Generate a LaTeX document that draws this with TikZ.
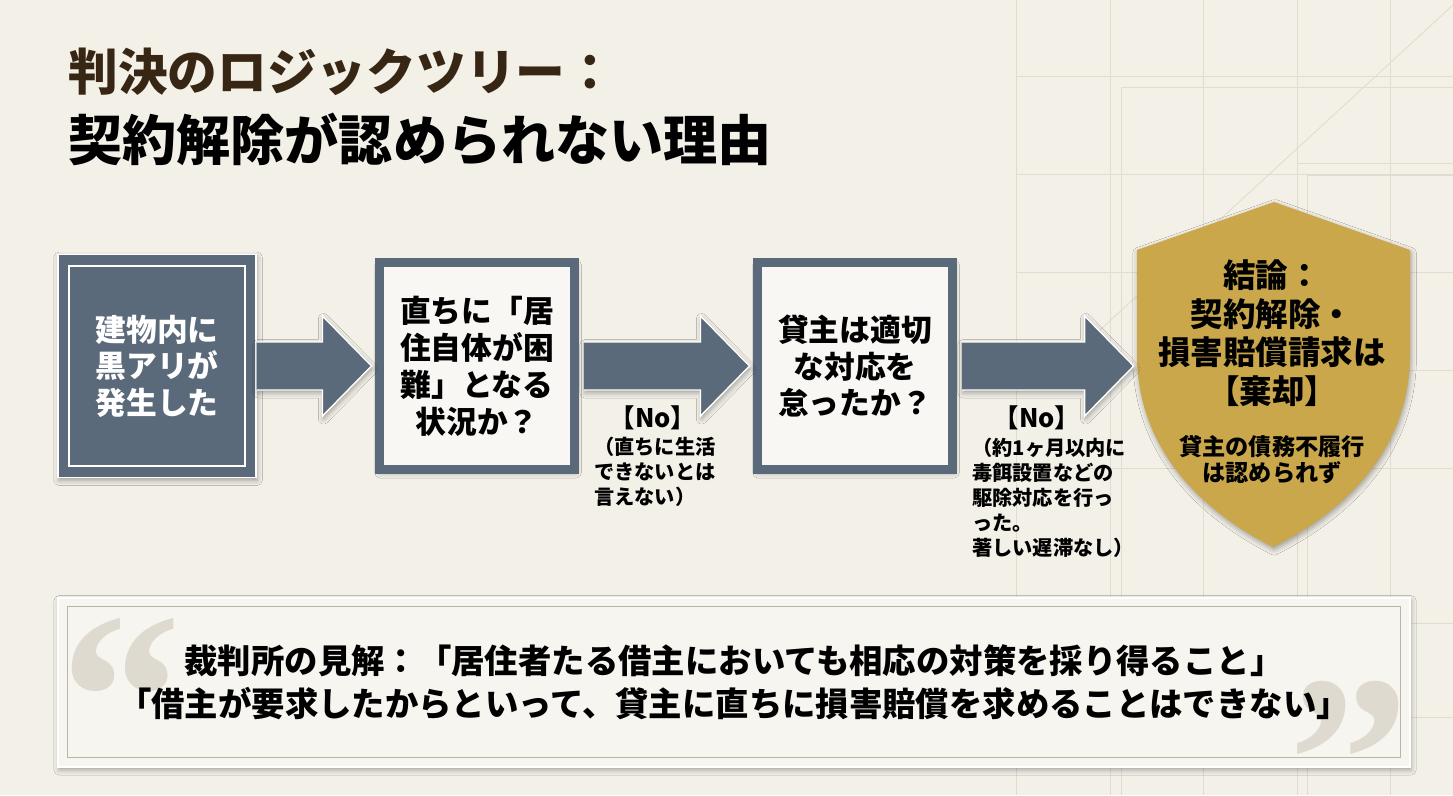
\documentclass[tikz,border=0pt]{standalone}
\usepackage{fontspec}
\setmainfont{Noto Sans CJK JP}
\newfontfamily\quotemark{Liberation Serif}
\usetikzlibrary{calc,shadows.blur}
\definecolor{paperbg}{RGB}{243,240,232}
\definecolor{gridtone}{RGB}{226,220,207}
\definecolor{slate}{RGB}{90,106,122}
\definecolor{paper}{RGB}{248,247,243}
\definecolor{gold}{RGB}{202,167,74}
\definecolor{quotepaper}{RGB}{247,245,239}
\definecolor{quotegray}{RGB}{222,218,208}
\definecolor{framegray}{RGB}{185,180,168}
\definecolor{titlebrown}{RGB}{56,38,20}
\newcommand\blockarrow[3]{%
  \coordinate (s) at ($(#1.east)+(#3,0)$);
  \coordinate (t0) at (#2.west |- #1.east);
  \coordinate (t) at ($(t0)+(-3,0)$);
  \fill[slate,softshadow] ($(s)+(0,-24)$) -- ($(t)+(-49,-24)$) -- ($(t)+(-49,-50)$) -- (t) -- ($(t)+(-49,50)$) -- ($(t)+(-49,24)$) -- ($(s)+(0,24)$) -- cycle;
  \draw[white,line width=0.8pt] ($(s)+(0,-24)$) -- ($(t)+(-49,-24)$) -- ($(t)+(-49,-50)$) -- (t) -- ($(t)+(-49,50)$) -- ($(t)+(-49,24)$) -- ($(s)+(0,24)$);}
\newcommand\bigquote[1]{\raisebox{-0.378em}[0.31em][0pt]{#1}}
\begin{document}
\begin{tikzpicture}[x=0.02cm,y=-0.02cm,
  gridline/.style={draw=gridtone,line width=0.5pt},
  softshadow/.style={blur shadow={shadow xshift=0.6pt,shadow yshift=-1.6pt,shadow blur radius=3pt,shadow opacity=35}},
  factbox/.style={softshadow,fill=slate,draw=white,line width=0.8pt,text=white,minimum width=3.96cm,minimum height=4.46cm,align=center,font=\bfseries\fontsize{17.5}{20.7}\selectfont},
  askbox/.style={softshadow,fill=paper,draw=slate,line width=0.18cm,minimum width=3.92cm,minimum height=4.16cm,align=center,font=\bfseries\fontsize{17.5}{21}\selectfont},
  nolabel/.style={inner sep=0pt,font=\bfseries\fontsize{14.5}{16}\selectfont},
  reason/.style={anchor=north west,align=left,inner sep=0pt,font=\bfseries\fontsize{11.5}{14.2}\selectfont},
  quoteglyph/.style={inner sep=0pt,text=quotegray,font=\quotemark\bfseries\fontsize{138}{138}\selectfont}]
\useasboundingbox (0,0) rectangle (1453,795);
\fill[paperbg] (0,0) rectangle (1453,795);
\foreach \gx in {1016,1110,1203,1297,1390} \draw[gridline] (\gx,0) -- (\gx,795);
\foreach \gy in {76,174,272,370,468,623,717} \draw[gridline] (1016,\gy) -- (1453,\gy);
\draw[gridline] (1121,795) -- (1121,87) -- (1453,87);
\draw[gridline] (1307,795) -- (1307,175) -- (1453,175);
\draw[gridline] (1297,163) -- (1453,163);
\draw[gridline] (1453,5) -- (1100,330);

\node[anchor=west,inner sep=0pt,text=titlebrown,font=\bfseries\fontsize{28.3}{30}\selectfont] (heading) at (68,72) {判決のロジックツリー：};
\node[anchor=west,inner sep=0pt,font=\bfseries\fontsize{30.8}{32}\selectfont] (subheading) at (68,139) {契約解除が認められない理由};

\node[factbox] (fact) at (157,366) {建物内に\\黒アリが\\発生した};
\draw[white,line width=1pt] ($(fact.south west)+(12,-12)$) rectangle ($(fact.north east)+(-12,12)$);
\node[askbox] (crisis) at (477,366) {直ちに「居\\住自体が困\\難」となる\\状況か？};
\node[askbox] (remedy) at (855,366) {貸主は適切\\な対応を\\怠ったか？};
\node[minimum width=5.46cm,minimum height=6.9cm,inner sep=0pt] (shield) at (1273.5,374.5) {};
\fill[gold,softshadow] (1274,202) -- (1410,250) -- (1410,360) .. controls (1407,450) and (1347,510) .. (1273,547) .. controls (1200,510) and (1140,450) .. (1137,360) -- (1137,250) -- cycle;
\node[align=center,inner sep=0pt,font=\bfseries\fontsize{18.5}{22}\selectfont] (verdict) at (1272,333) {結論：\\契約解除・\\損害賠償請求は\\【棄却】};
\node[align=center,inner sep=0pt,font=\bfseries\fontsize{13.2}{14.8}\selectfont] (verdictnote) at (1272,460) {貸主の債務不履行\\は認められず};

\blockarrow{fact}{crisis}{0}
\blockarrow{crisis}{remedy}{4.5}
\blockarrow{remedy}{shield}{4.5}

\node[nolabel] (no1) at (653,418) {【No】};
\node[reason] (why1) at (594,437) {（直ちに生活\\できないとは\\言えない）};
\node[nolabel] (no2) at (1037,418) {【No】};
\node[reason] (why2) at (972,438) {（約1ヶ月以内に\\毒餌設置などの\\駆除対応を行っ\\った。\\著しい遅滞なし）};

\node[softshadow,fill=quotepaper,draw=white,line width=0.8pt,minimum width=27.04cm,minimum height=3.38cm] (quotebox) at (734,682.5) {};
\draw[framegray,line width=0.6pt] ($(quotebox.north west)+(10,9)$) rectangle ($(quotebox.south east)+(-10,-10)$);
\node[quoteglyph] (openq) at (121,650) {\bigquote{“}};
\node[quoteglyph] (closeq) at (1349,713) {\bigquote{”}};
\node[align=center,inner sep=0pt,font=\bfseries\fontsize{19}{24.4}\selectfont] (ruling) at (quotebox.center) {裁判所の見解：「居住者たる借主においても相応の対策を採り得ること」\\「借主が要求したからといって、貸主に直ちに損害賠償を求めることはできない」};
\end{tikzpicture}
\end{document}
